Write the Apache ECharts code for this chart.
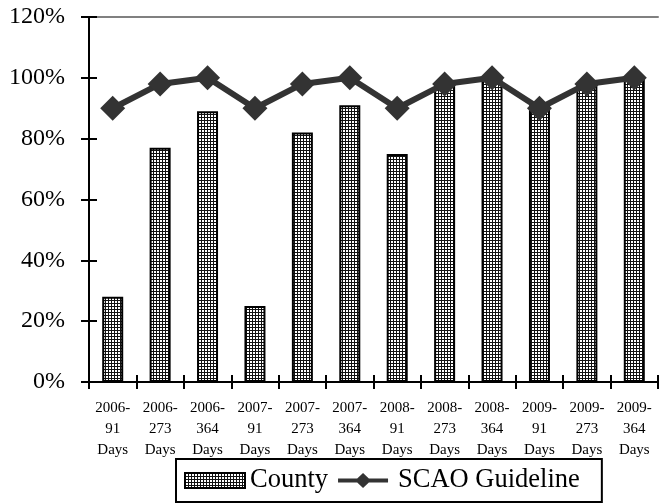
<!DOCTYPE html>
<html>
<head>
<meta charset="utf-8">
<script src="https://cdn.jsdelivr.net/npm/echarts@6/dist/echarts.min.js"></script>
<style>
  html, body { margin: 0; padding: 0; background: #fff; }
  #chart { width: 661px; height: 504px; }
</style>
</head>
<body>
<div id="chart"></div>
<script>
// categories and values
const categories = [
  '2006-\n91\nDays', '2006-\n273\nDays', '2006-\n364\nDays',
  '2007-\n91\nDays', '2007-\n273\nDays', '2007-\n364\nDays',
  '2008-\n91\nDays', '2008-\n273\nDays', '2008-\n364\nDays',
  '2009-\n91\nDays', '2009-\n273\nDays', '2009-\n364\nDays'
]
const countyValues = [28, 77, 89, 25, 82, 91, 75, 98, 100, 91, 98, 100]
const guidelineValues = [90, 98, 100, 90, 98, 100, 90, 98, 100, 90, 98, 100]
const yTicks = [0, 20, 40, 60, 80, 100, 120]

const font = '"Liberation Serif", "Times New Roman", serif'

// small grid hatching for the bars
function hatch() {
  const c = document.createElement('canvas')
  c.width = 3
  c.height = 3
  const ctx = c.getContext('2d')
  ctx.fillStyle = '#fff'
  ctx.fillRect(0, 0, 3, 3)
  ctx.fillStyle = '#111'
  ctx.fillRect(0, 0, 3, 1)
  ctx.fillRect(0, 0, 1, 3)
  return c
}

// thick line with a diamond in the middle, for the legend
const lineDiamond = 'path://M0,6.5L23,6.5L30,0L37,6.5L60,6.5L60,11.5L37,11.5L30,18L23,11.5L0,11.5Z'

const chart = echarts.init(document.getElementById('chart'))
const yMin = yTicks[0]
const yMax = yTicks[yTicks.length - 1]
const yStep = yTicks[1] - yTicks[0]
const pattern = { image: hatch(), repeat: 'repeat' }

chart.setOption({
  animation: false,
  backgroundColor: '#fff',
  grid: { left: 89, right: 3, top: 17, bottom: 122 },
  legend: {
    left: 176,
    top: 459,
    padding: [8, 22, 8, 8],
    borderColor: '#000',
    borderWidth: 2,
    itemGap: 10,
    itemWidth: 60,
    itemHeight: 15,
    textStyle: { fontFamily: font, fontSize: 26.5, color: '#000' },
    data: [
      { name: 'County', icon: 'rect' },
      { name: 'SCAO Guideline', icon: lineDiamond }
    ]
  },
  xAxis: [
    {
      type: 'category',
      data: categories,
      axisLine: { lineStyle: { color: '#000', width: 2 } },
      axisTick: { show: true, length: 7, lineStyle: { color: '#000', width: 2 } },
      axisLabel: {
        fontFamily: font, fontSize: 15, color: '#000',
        lineHeight: 21, margin: 16, interval: 0
      }
    },
    {
      type: 'category',
      data: categories,
      position: 'bottom',
      axisLine: { show: false },
      axisTick: { show: true, inside: true, length: 7, lineStyle: { color: '#000', width: 2 } },
      axisLabel: { show: false }
    },
    {
      type: 'category',
      data: categories,
      position: 'top',
      axisLine: { lineStyle: { color: '#808080', width: 2 } },
      axisTick: { show: false },
      axisLabel: { show: false }
    }
  ],
  yAxis: [
    {
      type: 'value',
      min: yMin, max: yMax, interval: yStep,
      axisLine: { show: true, lineStyle: { color: '#000', width: 2 } },
      axisTick: { show: true, length: 8, lineStyle: { color: '#000', width: 2 } },
      splitLine: { show: false },
      axisLabel: {
        formatter: '{value}%', fontFamily: font, fontSize: 24,
        color: '#000', margin: 24
      }
    },
    {
      type: 'value',
      position: 'left',
      min: yMin, max: yMax, interval: yStep,
      axisLine: { show: false },
      axisTick: { show: true, inside: true, length: 8, lineStyle: { color: '#000', width: 2 } },
      splitLine: { show: false },
      axisLabel: { show: false }
    }
  ],
  series: [
    {
      name: 'County',
      type: 'bar',
      data: countyValues,
      barWidth: 21,
      itemStyle: {
        color: pattern,
        borderColor: '#000',
        borderWidth: 2
      }
    },
    {
      name: 'SCAO Guideline',
      type: 'line',
      data: guidelineValues,
      symbol: 'diamond',
      symbolSize: 25,
      lineStyle: { color: '#333', width: 6 },
      itemStyle: { color: '#333' }
    }
  ]
})
</script>
</body>
</html>
